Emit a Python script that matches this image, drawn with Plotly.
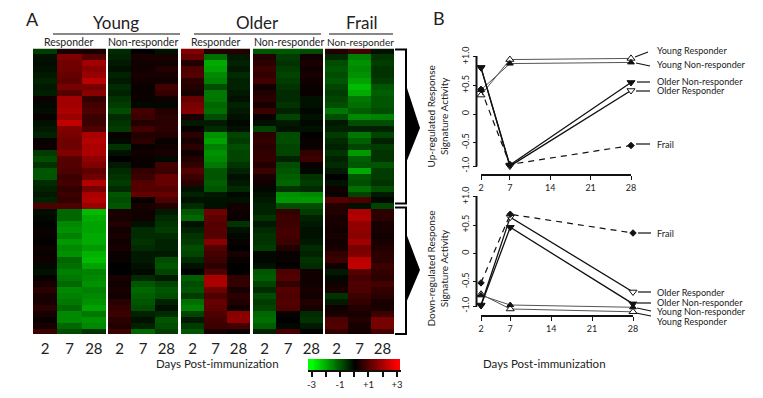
import numpy as np
import plotly.graph_objects as go

W, H = 763, 398
FONT = "Lato"
INK = "#222222"

# ---------- Panel A data: one list per sample column (top = up-regulated block, bottom = down-regulated block)
days_heat = ["2", "7", "28"]
young_resp_d2 = [-.7,-.2,-.15,-.2,-.3,-.4,-.3,-.35,.15,-.1,-.15,.1,-.2,-.3,-.4,.1,.15,-.7,-.9,-.6,-1.0,-1.0,-.5,-.4,-.3,-.4,
                 .9,-.15,-.1,-.05,.1,.1,.05,.15,.1,.2,-.1,-.2,.1,.3,.5,.3,.3,.5,.3,.1,.3,.7]
young_resp_d7 = [.3,1.5,1.3,1.3,1.2,1.1,1.4,1.0,1.9,1.9,2.0,1.8,2.3,1.5,1.4,1.3,1.3,1.5,1.0,1.0,.9,.7,.8,.6,.7,.6,
                 .9,-1.2,-1.2,-1.6,-1.7,-1.5,-1.8,-1.6,-1.7,-1.2,-1.3,-1.5,-1.4,-1.2,-1.6,-1.5,-1.4,-1.2,-1.6,-1.6,-1.2,-.9]
young_resp_d28 = [.3,1.0,1.9,1.6,1.8,2.2,1.4,1.6,.6,.8,.9,.7,.7,.9,2.0,2.1,2.0,2.0,1.7,1.5,1.1,1.3,2.1,1.4,2.0,2.1,
                  1.8,-2.2,-2.0,-1.9,-1.9,-2.0,-2.0,-1.8,-2.1,-2.2,-1.9,-1.5,-1.6,-1.7,-1.5,-1.6,-1.7,-1.9,-1.4,-1.7,-1.6,-.6]
young_non_d2 = [-.5,-.4,-.3,-.2,-.4,-.3,-.5,-.4,-.6,-.7,-.9,-.5,-.6,-.7,.1,-.1,-.6,-.2,.0,-.3,-.5,-.6,-.7,-.5,-1.0,-.9,
                -1.0,.3,.3,.4,.2,.3,.2,.3,.1,.1,.0,.0,.3,.2,.3,.2,.5,.6,.7,.5,.4,.7]
young_non_d7 = [.0,.3,.2,.2,.3,.2,.1,.1,.1,-.1,.8,.7,.4,.8,.4,.5,.1,.2,.1,.1,.6,.7,1.0,1.0,1.2,.1,
                .3,.2,.2,-.2,-.5,-.5,-.6,-.5,-.3,-.3,-.2,-.1,-.5,-1.0,-1.2,-1.1,-1.0,-.9,-.4,-.2,-.4,-1.2]
young_non_d28 = [-.2,.3,.2,.4,.3,.2,.8,.6,.2,-.1,.4,.5,.5,.5,.4,.1,.2,.3,-.1,.8,.7,1.2,1.2,1.0,1.2,.9,
                 .4,-.3,-.5,-.6,-.7,-.5,-.4,-.4,-.3,-.9,-1.0,-.8,-.3,-.8,-1.0,-.9,-.4,-.2,-.5,-1.0,-.9,-.7]
older_resp_d2 = [1.5,1.2,.4,.9,1.0,.5,.4,.3,1.2,1.4,1.5,.3,-.3,.1,.5,.3,.5,.2,.4,.6,1.0,.7,.5,-.2,-.4,-.2,
                 -.5,-1.0,-1.2,-.2,-.4,-.6,-.7,-.9,-.8,-.5,-.2,.0,-1.1,-.9,-1.0,-.7,-1.3,-1.5,-.8,-.3,-.7,-1.0]
older_resp_d7 = [.4,-1.3,-2.0,-1.9,-1.6,-1.5,-.9,-1.4,-1.4,-1.2,-1.3,-.9,-.3,-.5,-1.7,-1.9,-1.5,-1.7,-1.6,-1.4,-1.0,-1.0,-1.1,-1.0,-.3,-.2,
                 -.2,1.3,1.1,1.0,1.0,1.0,1.6,1.0,.8,.7,.5,.9,2.0,2.0,1.3,.9,1.2,1.1,.9,.8,.7,.3]
older_resp_d28 = [.4,-.3,-.4,-.3,-.5,-.4,-.4,-.3,-.2,-.4,-.3,-.2,-.1,-.2,-.8,-.7,-.9,-.8,-.8,-.6,-.4,-.2,-.3,-.5,-.1,-.2,
                  .2,.2,.1,-.6,-.2,-.1,.1,.0,.3,.1,.0,.0,.6,.6,.3,.5,.4,.2,1.6,1.7,.8,.1]
older_non_d2 = [-1.0,.4,.5,.7,.6,.8,.2,.4,.5,.3,.7,.1,-.2,-.8,.5,.6,.5,.6,.6,.4,.7,.3,.2,-.1,-.2,-.3,
                -.4,-.4,-.6,-.3,-.5,-.6,-.6,-.7,-.1,-.1,-.2,-1.0,-1.1,-.8,-.5,-.9,-.7,-.8,-1.2,-1.3,-1.1,-.4]
older_non_d7 = [-1.0,-.7,-.6,-.7,-.8,-.7,-.6,-.5,-.5,-.6,-.4,-.8,-.3,-.2,-.9,-.9,-.8,-.8,-.4,-.9,-1.0,-1.1,-1.2,-.6,-1.7,-1.8,
                -.9,.6,.7,.7,.8,.8,.7,.4,.1,.1,.0,.9,1.0,.6,1.0,.9,1.0,.9,.1,.0,-.1,.8]
older_non_d28 = [-.9,.2,.3,.2,.3,.2,.1,.1,-.2,-.2,-.1,-.2,-.1,-.2,.0,.1,.1,.6,.7,.1,-.1,-.6,-.7,-.5,-1.6,-1.8,
                 -.9,-.7,-.4,-.3,-.2,-.2,-.3,-.5,-.4,-.6,-.5,.2,.2,.2,.3,.2,.4,.3,-.5,-.6,-.3,.0]
frail_d2 = [.4,-.5,-.9,-1.0,-.9,-1.0,-.8,-.7,-.8,-.9,-1.4,-.9,-.3,-.4,-.7,-.5,-.4,-.6,-.4,-.5,-.3,.0,-.2,.2,.1,1.0,
            .4,.4,.3,.3,.2,.3,.2,.3,.6,.7,.2,-.3,-.1,.2,.3,-.6,-.3,.2,.3,.9,1.0,.6]
frail_d7 = [.8,-1.5,-1.7,-1.6,-1.7,-1.9,-2.2,-2.0,-1.4,-1.3,-1.1,-1.6,-.9,-.4,-1.4,-1.1,-.8,-1.8,-1.1,-1.0,-2.0,-1.0,-.9,-1.3,-.8,.9,
            -.2,2.0,2.1,1.7,1.7,1.6,1.9,1.4,1.5,2.2,2.3,1.0,.8,.9,.9,.7,.6,.4,.3,.4,.3,.2]
frail_d28 = [-.2,-.6,-.7,-.6,-.6,-.7,-1.0,-1.1,-1.0,-1.0,-.9,-1.5,-.9,-.4,-.8,-.4,-.7,-.6,-.6,-1.0,-.7,-.7,-.6,-.9,-.3,-.1,
             -.8,.5,.5,.3,.3,.2,.3,.4,.5,.5,.7,.6,.5,.8,.6,.5,.3,.3,.7,1.4,1.4,.8]

# ---------- Panel B data
days_line = [2, 7, 28]
up_young_resp = [.33, .95, .97]
up_young_non = [.42, .88, .90]
up_older_non = [.81, -.89, .55]
up_older_resp = [.81, -.91, .41]
up_frail = [.43, -.88, -.55]
down_young_resp = [-.72, -.98, -1.03]
down_young_non = [-.74, -.91, -.95]
down_older_non = [-.92, .46, -.89]
down_older_resp = [-.91, .64, -.68]
down_frail = [-.52, .69, .36]

panels = [
    ([young_resp_d2, young_resp_d7, young_resp_d28], (33, 106)),
    ([young_non_d2, young_non_d7, young_non_d28], (108, 178)),
    ([older_resp_d2, older_resp_d7, older_resp_d28], (181, 250)),
    ([older_non_d2, older_non_d7, older_non_d28], (253, 323)),
    ([frail_d2, frail_d7, frail_d28], (325, 394)),
]
CS = [[0, "#00ff00"], [0.5, "#000000"], [1, "#ff0000"]]

def px_x(p): return p / W
def py(p): return 1 - p / H

fig = go.Figure()
layout = {}
for i, (cols, (x0, x1)) in enumerate(panels, start=1):
    z = np.array(cols).T.tolist()
    fig.add_trace(go.Heatmap(z=z, x=days_heat, colorscale=CS, zmin=-3, zmax=3, showscale=False,
                             xaxis=f"x{i}" if i > 1 else "x", yaxis="y"))
    layout[f"xaxis{i}" if i > 1 else "xaxis"] = dict(
        domain=[px_x(x0), px_x(x1)], anchor="y", type="category", showgrid=False, zeroline=False, automargin=False,
        showline=False, ticks="", ticklabelstandoff=4, tickfont=dict(family=FONT, size=15, color=INK))
layout["yaxis"] = dict(domain=[py(334), py(48.5)], autorange="reversed", visible=False, anchor="x", automargin=False)

# ---------- Line panels
YOUNG = "#555555"
BLK = "#111111"
def add_lines(ax, series):
    for vals, sym, fill, col, wid, dash, size in series:
        fig.add_trace(go.Scatter(x=days_line, y=vals, mode="lines+markers", xaxis=f"x{ax}", yaxis=f"y{ax}",
                                 cliponaxis=False, showlegend=False,
                                 line=dict(color=col, width=wid, dash=dash),
                                 marker=dict(symbol=sym, size=size, color=fill, line=dict(color=BLK, width=1))))

add_lines(6, [
    (up_young_resp, "triangle-up", "white", YOUNG, 1, "solid", 7),
    (up_young_non, "triangle-up", BLK, YOUNG, 1, "solid", 6),
    (up_older_resp, "triangle-down", "white", BLK, 1.3, "solid", 7),
    (up_older_non, "triangle-down", BLK, BLK, 1.3, "solid", 7),
    (up_frail, "diamond", BLK, BLK, 1.2, "6px,5px", 5),
])
add_lines(7, [
    (down_young_resp, "triangle-up", "white", YOUNG, 1, "solid", 7),
    (down_young_non, "triangle-up", BLK, YOUNG, 1, "solid", 6),
    (down_older_resp, "triangle-down", "white", BLK, 1.3, "solid", 7),
    (down_older_non, "triangle-down", BLK, BLK, 1.3, "solid", 7),
    (down_frail, "diamond", BLK, BLK, 1.2, "6px,5px", 5),
])

def line_axes(n, ytop, px_per_unit, xaxis_y, xleft, xright, yaxis_x, minus_pos):
    ymin = -1.15
    layout[f"xaxis{n}"] = dict(
        domain=[px_x(xleft), px_x(xright)], range=[2, 28], anchor="free", position=py(xaxis_y), automargin=False,
        tickvals=[2, 7, 14, 21, 28], ticks="outside", ticklen=4, tickwidth=1.2, tickcolor=BLK,
        showline=True, linecolor=BLK, linewidth=2, showgrid=False, zeroline=False,
        tickfont=dict(family=FONT, size=9, color=INK))
    layout[f"yaxis{n}"] = dict(
        domain=[py(ytop + (1 - ymin) * px_per_unit), py(ytop)], range=[ymin, 1], anchor="free", position=px_x(yaxis_x),
        automargin=False, tickvals=[1, .5, 0, -.5, minus_pos], ticktext=["+1.0", "+0.5", "0", "-0.5", "-1.0"],
        tickangle=-90, ticks="outside", ticklen=4, tickwidth=1.2, tickcolor=BLK,
        showline=False, showgrid=False, zeroline=False,
        tickfont=dict(family=FONT, size=9, color=INK))

line_axes(6, 56.7, 57.3, 175, 481, 631, 476.5, -.91)
line_axes(7, 196.7, 56.7, 316, 481, 633, 476.5, -.93)

# ---------- Colour key
key_scale = np.arange(-3.25, 3.5, 0.25).tolist()
key_ticks = [-3, -2, -1, 0, 1, 2, 3]
key_labels = ["-3", "", "-1", "", "+1", "", "+3"]
fig.add_trace(go.Heatmap(z=[key_scale], x=key_scale, colorscale=CS, zmin=-3, zmax=3, showscale=False,
                         zsmooth="best", xaxis="x8", yaxis="y8"))
layout["xaxis8"] = dict(domain=[px_x(308), px_x(400.5)], range=[-3.25, 3.25], anchor="y8", automargin=False,
                        tickvals=key_ticks, ticktext=key_labels, ticks="outside", ticklen=5, tickwidth=2,
                        tickcolor=BLK, showline=True, linecolor=BLK, linewidth=1.5,
                        showgrid=False, zeroline=False, tickfont=dict(family=FONT, size=9.5, color=INK))
layout["yaxis8"] = dict(domain=[py(370), py(359)], visible=False, anchor="x8", automargin=False)

# ---------- Texts
def note(text, x, y, size, xanchor="center", angle=0):
    return dict(text=text, x=px_x(x), y=py(y), xref="paper", yref="paper", showarrow=False, xanchor=xanchor,
                yanchor="middle", textangle=angle, font=dict(family=FONT, size=size, color=INK), align="center")

RL = 9.1
annotations = [
    note("A", 32, 19, 18), note("B", 439, 18, 18),
    note("Young", 116, 22, 17), note("Older", 257, 22, 17), note("Frail", 361, 22, 17),
    note("Responder", 68, 42, 10.5), note("Non-responder", 143, 42, 10.5),
    note("Responder", 215, 42, 10.5), note("Non-responder", 289, 42, 10.5),
    note("Non-responder", 360, 42, 10),
    note("Days Post-immunization", 217, 363, 11.5),
    note("Days Post-immunization", 544, 363, 11.5),
    note("Up-regulated Response<br>Signature Activity", 436.5, 117, 10, angle=-90),
    note("Down-regulated Response<br>Signature Activity", 436.5, 269, 10, angle=-90),
    note("Young Responder", 655, 51, RL, "left"), note("Young Non-responder", 655, 64.5, RL, "left"),
    note("Older Non-responder", 655, 81.5, RL, "left"), note("Older Responder", 655, 91, RL, "left"),
    note("Frail", 655, 144, RL, "left"),
    note("Frail", 655, 233, RL, "left"), note("Older Responder", 655, 292, RL, "left"),
    note("Older Non-responder", 655, 302, RL, "left"), note("Young Non-responder", 655, 311.5, RL, "left"),
    note("Young Responder", 655, 321, RL, "left"),
]

# ---------- Decorations
def seg(x0, y0, x1, y1, w=1.2):
    return dict(type="line", xref="paper", yref="paper", x0=px_x(x0), y0=py(y0), x1=px_x(x1), y1=py(y1),
                line=dict(color=BLK, width=w))
def path(pts, fill=None, w=2):
    d = "M " + " L ".join(f"{px_x(a)},{py(b)}" for a, b in pts)
    s = dict(type="path", xref="paper", yref="paper", path=d + (" Z" if fill else ""),
             line=dict(color="#000", width=0 if fill else w))
    if fill:
        s["fillcolor"] = fill
    return s

shapes = [
    seg(53, 34, 180, 34), seg(194, 34, 321, 34), seg(329, 34, 393, 34),
    seg(476.5, 56, 476.5, 166.5, 2), seg(476.5, 196, 476.5, 306.5, 2),
    path([(395, 49.5), (406, 49.5), (406, 203.5), (395, 203.5)]),
    path([(395, 207.5), (406, 207.5), (406, 334), (395, 334)]),
    path([(406, 85), (420, 128), (406, 163)], fill="#000"),
    path([(406, 233), (420, 270), (406, 303)], fill="#000"),
    seg(635, 57, 648, 52), seg(636, 63, 650, 66), seg(637, 82, 650, 82), seg(636, 91, 650, 91), seg(636, 144, 650, 144),
    seg(638, 233, 651, 233), seg(638, 292, 651, 292), seg(637, 303, 651, 303), seg(637, 308, 651, 311), seg(636, 313, 651, 316),
]

fig.update_layout(width=W, height=H, margin=dict(l=0, r=0, t=0, b=0, autoexpand=False),
                  paper_bgcolor="white", plot_bgcolor="white",
                  showlegend=False, annotations=annotations, shapes=shapes, **layout)
fig.write_html("out.html", config=dict(displayModeBar=False), post_script="document.body.style.margin='0';")
